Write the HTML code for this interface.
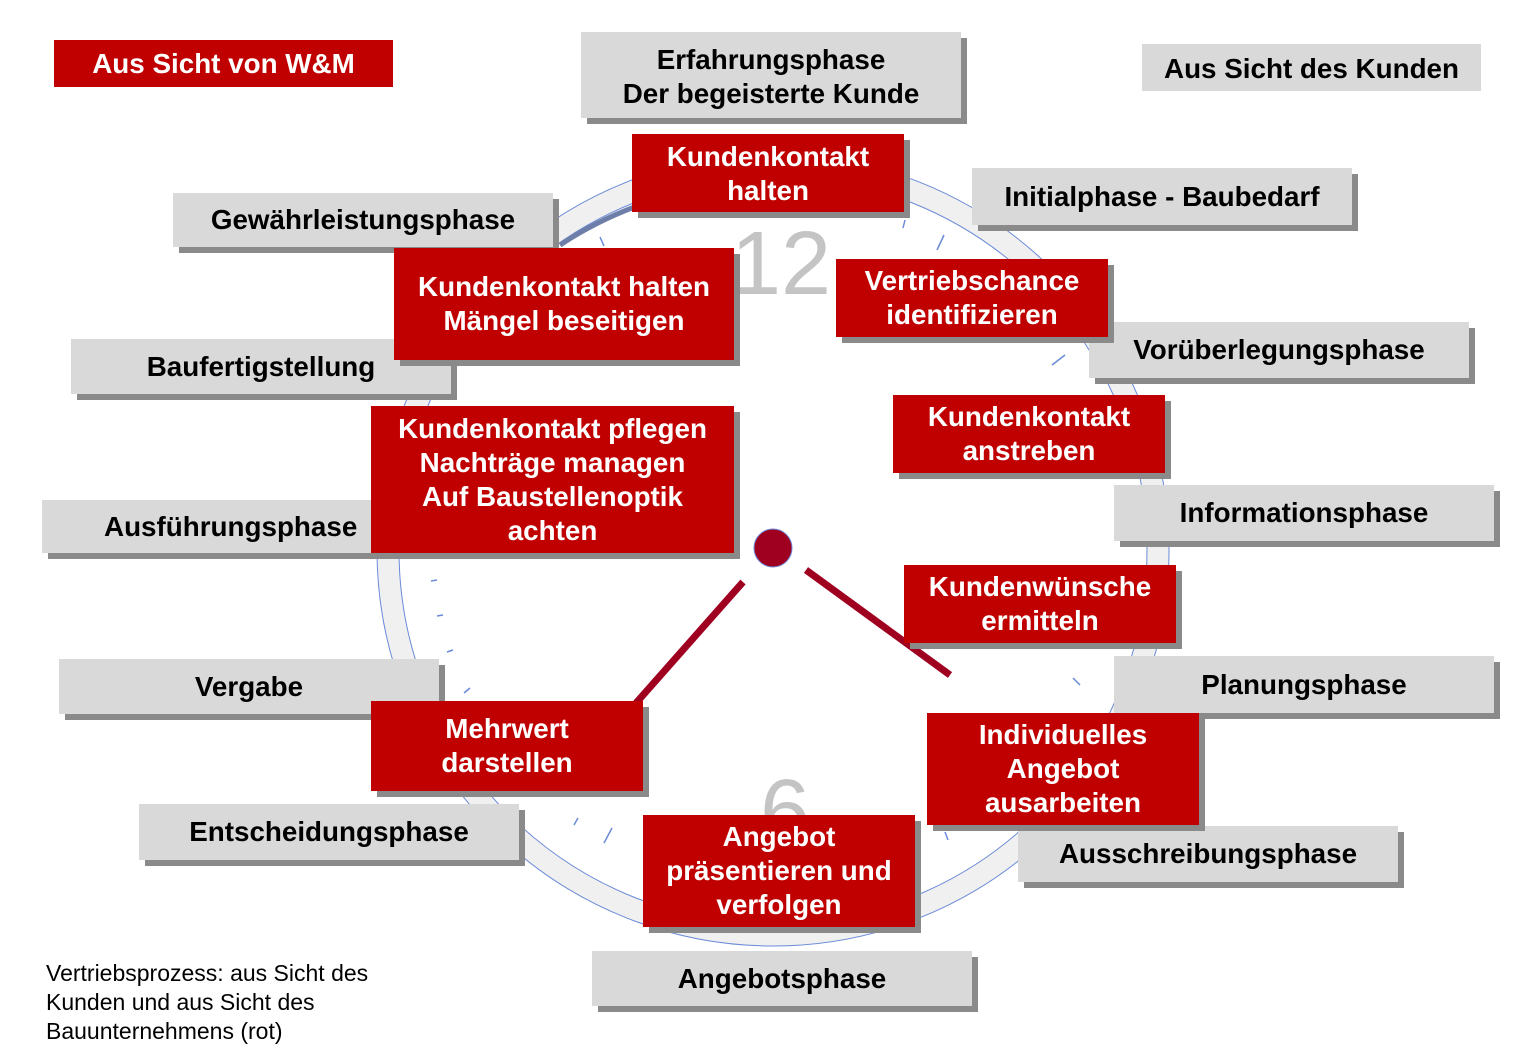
<!DOCTYPE html>
<html><head><meta charset="utf-8"><style>
body{margin:0;width:1523px;height:1058px;background:#fff;position:relative;overflow:hidden;font-family:"Liberation Sans",Arial,sans-serif}
.b{position:absolute;display:flex;align-items:center;justify-content:center;text-align:center;font-weight:bold;font-size:27.8px;line-height:34px;box-shadow:6px 6px 0 #8a8a8a;white-space:nowrap}
.g{background:#d9d9d9;color:#000}
.r{background:#c00000;color:#fff}
</style></head><body>
<svg style="position:absolute;left:0;top:0" width="1523" height="1058">
<circle cx="773" cy="550" r="385" fill="none" stroke="#f0f0f0" stroke-width="22"/>
<circle cx="773" cy="550" r="396" fill="none" stroke="#6a8ad8" stroke-width="1"/>
<circle cx="773" cy="550" r="374" fill="none" stroke="#6a8ad8" stroke-width="1"/>
<path d="M560 245 A374 374 0 0 1 640 205" fill="none" stroke="#6d7fa8" stroke-width="5"/>
<g stroke="#6a8ad8" stroke-width="1.5">
<line x1="944" y1="235" x2="937" y2="250"/><line x1="1065" y1="355" x2="1052" y2="365"/>
<line x1="1080" y1="685" x2="1073" y2="678"/><line x1="612" y1="828" x2="604" y2="843"/>
<line x1="578" y1="818" x2="574" y2="825"/><line x1="470" y1="688" x2="464" y2="693"/>
<line x1="453" y1="650" x2="447" y2="652"/><line x1="443" y1="615" x2="437" y2="616"/>
<line x1="437" y1="580" x2="431" y2="581"/><line x1="600" y1="237" x2="604" y2="246"/>
<line x1="905" y1="220" x2="903" y2="228"/><line x1="945" y1="832" x2="948" y2="840"/>
</g>
<text x="781" y="294" font-family="Liberation Sans" font-size="90" fill="#c4c4c4" text-anchor="middle">12</text>
<text x="785" y="842" font-family="Liberation Sans" font-size="90" fill="#c4c4c4" text-anchor="middle">6</text>
<line x1="743" y1="582" x2="636" y2="703" stroke="#a00020" stroke-width="7"/>
<line x1="806" y1="570" x2="950" y2="675" stroke="#a00020" stroke-width="7"/>
<circle cx="773" cy="548" r="19" fill="#a00020" stroke="#6a8ad8" stroke-width="1"/>
</svg>
<div class="b r" style="left:54px;top:40px;width:339px;height:47px;box-shadow:none">Aus Sicht von W&amp;M</div>
<div class="b g" style="left:581px;top:32px;width:380px;height:86px;padding-top:3px;box-sizing:border-box">Erfahrungsphase<br>Der begeisterte Kunde</div>
<div class="b g" style="left:1142px;top:44px;width:339px;height:47px;box-shadow:none;padding-top:2px;box-sizing:border-box">Aus Sicht des Kunden</div>
<div class="b g" style="left:173px;top:193px;width:380px;height:54px">Gewährleistungsphase</div>
<div class="b g" style="left:972px;top:168px;width:380px;height:57px">Initialphase - Baubedarf</div>
<div class="b g" style="left:71px;top:339px;width:380px;height:55px">Baufertigstellung</div>
<div class="b g" style="left:1089px;top:322px;width:380px;height:56px">Vorüberlegungsphase</div>
<div class="b g" style="left:1114px;top:485px;width:380px;height:56px">Informationsphase</div>
<div class="b g" style="left:42px;top:500px;width:380px;height:53px;justify-content:flex-start;padding-left:62px;box-sizing:border-box">Ausführungsphase</div>
<div class="b g" style="left:59px;top:659px;width:380px;height:55px">Vergabe</div>
<div class="b g" style="left:1114px;top:656px;width:380px;height:57px">Planungsphase</div>
<div class="b g" style="left:139px;top:804px;width:380px;height:56px">Entscheidungsphase</div>
<div class="b g" style="left:1018px;top:826px;width:380px;height:56px">Ausschreibungsphase</div>
<div class="b g" style="left:592px;top:951px;width:380px;height:55px">Angebotsphase</div>
<div class="b r" style="left:632px;top:134px;width:272px;height:78px;padding-top:2px;box-sizing:border-box">Kundenkontakt<br>halten</div>
<div class="b r" style="left:394px;top:248px;width:340px;height:112px">Kundenkontakt halten<br>Mängel beseitigen</div>
<div class="b r" style="left:836px;top:259px;width:272px;height:78px">Vertriebschance<br>identifizieren</div>
<div class="b r" style="left:893px;top:395px;width:272px;height:78px">Kundenkontakt<br>anstreben</div>
<div class="b r" style="left:371px;top:406px;width:363px;height:147px">Kundenkontakt pflegen<br>Nachträge managen<br>Auf Baustellenoptik<br>achten</div>
<div class="b r" style="left:904px;top:565px;width:272px;height:78px">Kundenwünsche<br>ermitteln</div>
<div class="b r" style="left:371px;top:701px;width:272px;height:90px">Mehrwert<br>darstellen</div>
<div class="b r" style="left:927px;top:713px;width:272px;height:112px">Individuelles<br>Angebot<br>ausarbeiten</div>
<div class="b r" style="left:643px;top:815px;width:272px;height:112px">Angebot<br>präsentieren und<br>verfolgen</div>
<div style="position:absolute;left:46px;top:959px;font-size:23px;line-height:29px;color:#000">Vertriebsprozess: aus Sicht des<br>Kunden und aus Sicht des<br>Bauunternehmens (rot)</div>
</body></html>
